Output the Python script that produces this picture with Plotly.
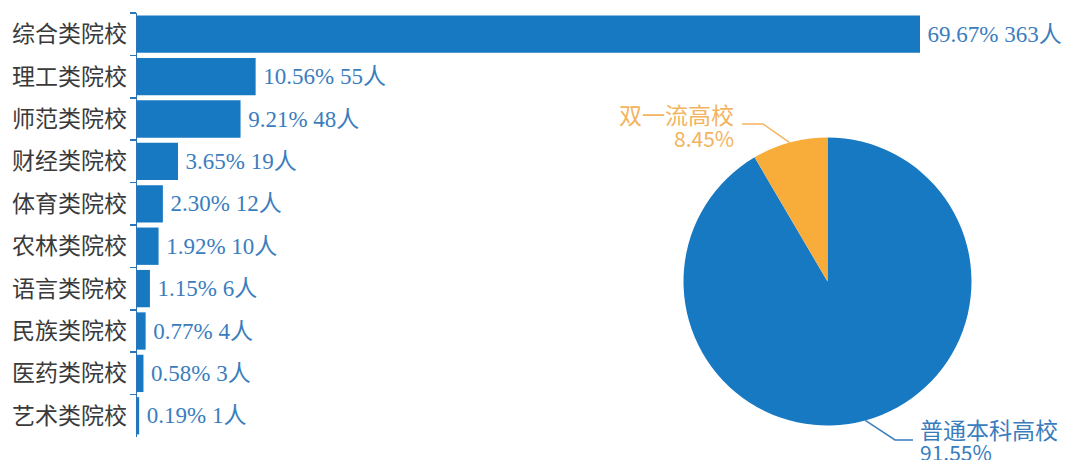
import math
import plotly.graph_objects as go

# ---- data ----
categories = ["综合类院校", "理工类院校", "师范类院校", "财经类院校", "体育类院校",
              "农林类院校", "语言类院校", "民族类院校", "医药类院校", "艺术类院校"]
counts = [363, 55, 48, 19, 12, 10, 6, 4, 3, 1]
shares = ["69.67%", "10.56%", "9.21%", "3.65%", "2.30%", "1.92%", "1.15%", "0.77%", "0.58%", "0.19%"]

pie_labels = ["普通本科高校", "双一流高校"]
pie_values = [91.55, 8.45]

W, H = 1067, 460
BLUE = "#1879C3"
ORANGE = "#F8AD3B"
TXT_BLUE = "#3A7DBE"
TXT_ORANGE = "#F2B45E"
AXIS_BLUE = "#2D74B8"

bar_text = [f"\u2009{s} {c}人" for s, c in zip(shares, counts)]

# layout geometry (pixels)
plot_left = 137
bar_end_px = 920
plot_top, plot_bottom = 13, 437
xmax = max(counts) * (W - plot_left) / (bar_end_px - plot_left)

fig = go.Figure()
fig.add_trace(go.Bar(
    y=categories, x=counts, orientation="h",
    marker=dict(color=BLUE, line=dict(width=0)),
    text=bar_text, textposition="outside", cliponaxis=False,
    constraintext="none",
    textfont=dict(family="Liberation Serif, Noto Sans CJK SC", size=23, color=TXT_BLUE),
    hoverinfo="skip",
))

# pie geometry
pcx, pcy, pr = 827.5, 281.5, 144
fig.add_trace(go.Pie(
    labels=pie_labels, values=pie_values, sort=False, direction="clockwise",
    rotation=0, textinfo="none", hoverinfo="skip", showlegend=False,
    marker=dict(colors=[BLUE, ORANGE], line=dict(color="white", width=0)),
    domain=dict(x=[(pcx - pr) / W, (pcx + pr) / W],
                y=[(H - (pcy + pr)) / H, (H - (pcy - pr)) / H]),
))

def px(x):
    return x / W

def py(y):
    return (H - y) / H

# leader line anchor points computed from slice mid-angles
total = sum(pie_values)
blue_mid = pie_values[0] / total / 2 * 2 * math.pi          # clockwise from 12 o'clock
orange_mid = -(pie_values[1] / total / 2) * 2 * math.pi     # counter-clockwise from 12
bx, by = pcx + pr * math.sin(blue_mid), pcy - pr * math.cos(blue_mid)
ox, oy = pcx + pr * math.sin(orange_mid), pcy - pr * math.cos(orange_mid)

shapes = [
    dict(type="path", xref="paper", yref="paper",
         path=f"M {px(ox)},{py(oy)} L {px(763)},{py(124)} L {px(742)},{py(124)}",
         line=dict(color=TXT_ORANGE, width=1.5)),
    dict(type="path", xref="paper", yref="paper",
         path=f"M {px(bx)},{py(by)} L {px(895)},{py(440)} L {px(913)},{py(440)}",
         line=dict(color=TXT_BLUE, width=1.5)),
]

lab_font = "Noto Sans CJK SC"
annotations = [
    dict(text=pie_labels[1], x=px(736), y=py(114), xref="paper", yref="paper",
         xanchor="right", yanchor="middle", showarrow=False,
         font=dict(family=lab_font, size=23, color=TXT_ORANGE)),
    dict(text=f"{pie_values[1]:.2f}%", x=px(736), y=py(138), xref="paper", yref="paper",
         xanchor="right", yanchor="middle", showarrow=False,
         font=dict(family=lab_font, size=21, color=TXT_ORANGE)),
    dict(text=pie_labels[0], x=px(918), y=py(429), xref="paper", yref="paper",
         xanchor="left", yanchor="middle", showarrow=False,
         font=dict(family=lab_font, size=23, color=TXT_BLUE)),
    dict(text=f"{pie_values[0]:.2f}%", x=px(918), y=py(452), xref="paper", yref="paper",
         xanchor="left", yanchor="middle", showarrow=False,
         font=dict(family=lab_font, size=21, color=TXT_BLUE)),
]

fig.update_layout(
    template="none",
    width=W, height=H,
    margin=dict(l=0, r=0, t=0, b=0),
    paper_bgcolor="white", plot_bgcolor="white",
    showlegend=False,
    bargap=0.12,
    hovermode=False,
    xaxis=dict(domain=[plot_left / W, 1], range=[0, xmax], visible=False,
               showgrid=False, zeroline=False, automargin=False),
    yaxis=dict(domain=[(H - plot_bottom) / H, (H - plot_top) / H],
               autorange="reversed", showgrid=False, zeroline=False,
               showline=True, linecolor=AXIS_BLUE, linewidth=1.5,
               ticks="outside", tickson="boundaries", ticklen=6,
               tickcolor=AXIS_BLUE, tickwidth=1.5, automargin=False,
               ticklabelstandoff=4,
               tickfont=dict(family="Noto Sans CJK SC", size=23, color="#3a3a3a")),
    shapes=shapes,
    annotations=annotations,
)

fig.write_html("out.html",
               config={"displayModeBar": False, "staticPlot": True},
               post_script="document.body.style.margin='0';document.body.style.overflow='hidden';")
